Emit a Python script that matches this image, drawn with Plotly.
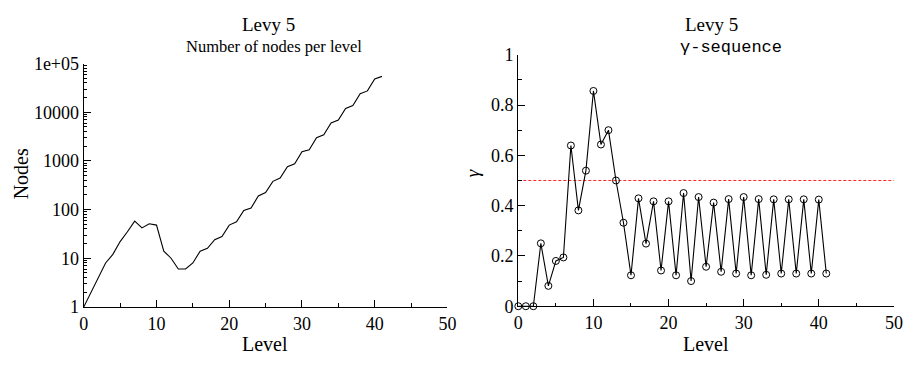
import plotly.graph_objects as go

# Levels 0..41 of the Levy 5 tree
levels = list(range(42))

# Number of nodes found at each level
nodes = [1, 2, 4, 8, 12, 22, 35, 58, 42, 51,
         48, 14, 10, 6, 6, 8, 14, 16, 24, 28,
         48, 56, 96, 108, 190, 224, 380, 446, 760, 870,
         1540, 1700, 3000, 3460, 6000, 6900, 12000, 13800, 24000, 27500,
         48400, 54700]

# gamma value at each level
gamma = [0.0, 0.0, 0.0, 0.25, 0.081, 0.18, 0.194, 0.639, 0.381, 0.539,
         0.856, 0.643, 0.70, 0.50, 0.332, 0.123, 0.429, 0.249, 0.417, 0.142,
         0.417, 0.123, 0.45, 0.10, 0.434, 0.157, 0.412, 0.137, 0.426, 0.13,
         0.434, 0.123, 0.426, 0.125, 0.425, 0.13, 0.425, 0.13, 0.425, 0.13,
         0.424, 0.13]

threshold = 0.5

log_ticks = [1, 10, 100, 1000, 10000, 100000]
log_tick_text = ["1", "10", "100", "1000", "10000", "1e+05"]
log_minor = [m * 10 ** d for d in range(5) for m in range(2, 10)]

W, H = 915, 367
SERIF = "Liberation Serif"

fig = go.Figure()

fig.add_trace(go.Scatter(
    x=levels, y=nodes, mode="lines",
    line=dict(color="black", width=1.1),
    xaxis="x", yaxis="y", showlegend=False,
))

fig.add_trace(go.Scatter(
    x=[0, 50], y=[threshold, threshold], mode="lines",
    line=dict(color="#ff2020", width=1, dash="3px,2px"),
    xaxis="x2", yaxis="y2", showlegend=False,
))

fig.add_trace(go.Scatter(
    x=levels, y=gamma, mode="lines+markers",
    line=dict(color="black", width=1.1),
    marker=dict(symbol="circle-open", size=7, color="black", line=dict(width=1)),
    cliponaxis=False,
    xaxis="x2", yaxis="y2", showlegend=False,
))


def px_x(p):
    return p / W


def px_y(p):
    return 1 - p / H


axis_common = dict(
    showline=True, linecolor="black", linewidth=1.3,
    showgrid=False, zeroline=False, mirror=False,
    ticks="inside", ticklen=7, tickwidth=1, tickcolor="black",
    tickfont=dict(family=SERIF, size=18, color="black"),
)

fig.update_layout(
    width=W, height=H,
    margin=dict(l=0, r=0, t=0, b=0),
    paper_bgcolor="white", plot_bgcolor="white",
    xaxis=dict(
        domain=[px_x(80), px_x(449.3)], range=[0, 50],
        tickvals=[0, 10, 20, 30, 40, 50],
        minor=dict(tickvals=[5, 15, 25, 35, 45], ticks="inside", ticklen=3.5,
                   tickcolor="black"),
        anchor="y", **axis_common,
    ),
    yaxis=dict(
        domain=[px_y(314), px_y(56.7)], type="log", range=[0, 5],
        tickvals=log_ticks, ticktext=log_tick_text,
        minor=dict(tickvals=log_minor, ticks="inside", ticklen=3.5,
                   tickcolor="black"),
        anchor="x", **axis_common,
    ),
    xaxis2=dict(
        domain=[px_x(521.3), px_x(902.7)], range=[0, 50],
        tickvals=[0, 10, 20, 30, 40, 50],
        minor=dict(tickvals=[5, 15, 25, 35, 45], ticks="inside", ticklen=3.5,
                   tickcolor="black"),
        anchor="y2", **axis_common,
    ),
    yaxis2=dict(
        domain=[px_y(313.3), px_y(47.3)], range=[0, 1],
        tickvals=[0, 0.2, 0.4, 0.6, 0.8, 1],
        ticktext=["0", "0.2", "0.4", "0.6", "0.8", "1"],
        minor=dict(tickvals=[0.1, 0.3, 0.5, 0.7, 0.9], ticks="inside",
                   ticklen=3.5, tickcolor="black"),
        anchor="x2", **axis_common,
    ),
)


def label(text, x, y, size, family=SERIF, angle=0):
    fig.add_annotation(
        text=text, x=px_x(x), y=px_y(y), xref="paper", yref="paper",
        xanchor="center", yanchor="middle", showarrow=False, textangle=angle,
        font=dict(family=family, size=size, color="black"),
    )


# Titles
label("Levy 5", 268, 15, 19)
label("Number of nodes per level", 273, 39, 16.5)
label("Levy 5", 717.7, 15, 19)
label("γ-sequence", 737.7, 40, 17, family="Liberation Mono")

# Axis titles
label("Level", 264.5, 353, 20)
label("Level", 712, 353, 20)
label("Nodes", 16, 173, 20, angle=-90)
label("<i>γ</i>", 475, 173, 19, angle=-90)

fig.write_html("out.html")
